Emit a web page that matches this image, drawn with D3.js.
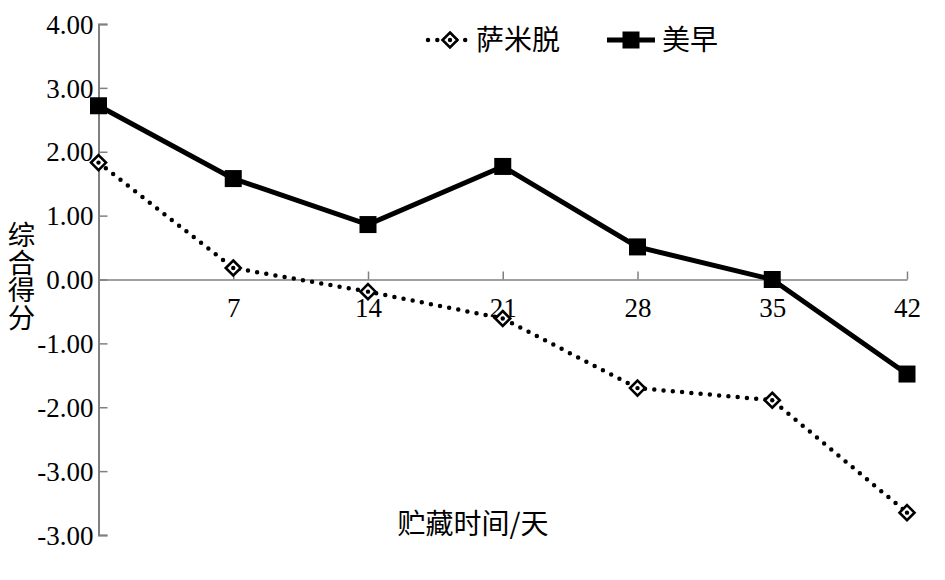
<!DOCTYPE html>
<html><head><meta charset="utf-8">
<script src="https://cdn.jsdelivr.net/npm/d3@7"></script>
<style>body{margin:0;background:#fff}svg{display:block}</style>
</head><body>
<script>
const days = [0, 7, 14, 21, 28, 35, 42];
const xTickValues = [7, 14, 21, 28, 35, 42];
const samitoValues = [1.83, 0.18, -0.19, -0.61, -1.70, -1.89, -3.65];
const meizaoValues = [2.72, 1.58, 0.86, 1.77, 0.51, 0.00, -1.48];
const yTickValues = [4, 3, 2, 1, 0, -1, -2, -3, -4];
const yTickLabels = ["4.00", "3.00", "2.00", "1.00", "0.00", "-1.00", "-2.00", "-3.00", "-3.00"];
const seriesNames = ["萨米脱", "美早"];

const W = 945, H = 580;
const svg = d3.select("body").append("svg").attr("width", W).attr("height", H);
const x = d3.scaleLinear().domain([0, 42]).range([98.5, 907]);
const y = d3.scaleLinear().domain([-4, 4]).range([535, 24]);
const serif = "'Liberation Serif','Times New Roman',serif";
const cjk = "'Noto Sans CJK SC','Noto Sans',sans-serif";
const axisColor = "#808080";

// Y axis
const yAxis = svg.append("g").attr("transform", `translate(${x(0)},0)`)
  .call(d3.axisRight(y).tickValues(yTickValues).tickSize(9).tickFormat((d, i) => yTickLabels[i]));
yAxis.select(".domain").attr("stroke", axisColor).attr("stroke-width", 2);
yAxis.selectAll(".tick line").attr("stroke", axisColor).attr("stroke-width", 1.5);
yAxis.selectAll(".tick text").attr("x", -5).attr("text-anchor", "end")
  .attr("font-family", serif).attr("font-size", 27).attr("fill", "#000").attr("dy", "0.34em");

// X axis at y=0
const xAxis = svg.append("g").attr("transform", `translate(0,${y(0)})`)
  .call(d3.axisBottom(x).tickValues(xTickValues).tickSize(-8).tickSizeOuter(0).tickFormat(d3.format("d")));
xAxis.select(".domain").attr("stroke", axisColor).attr("stroke-width", 1.5);
xAxis.selectAll(".tick line").attr("stroke", axisColor).attr("stroke-width", 1.5);
xAxis.selectAll(".tick text").attr("y", 37).attr("dy", 0)
  .attr("font-family", serif).attr("font-size", 27).attr("fill", "#000");

const line = d3.line().x((d, i) => x(days[i])).y(d => y(d));

// 萨米脱 dotted
svg.append("path").datum(samitoValues).attr("d", line)
  .attr("fill", "none").attr("stroke", "#000").attr("stroke-width", 4.5)
  .attr("stroke-linecap", "round").attr("stroke-dasharray", "0 9.3");
const dsz = 7.5;
svg.selectAll(".dia").data(samitoValues).enter().append("path")
  .attr("transform", (d, i) => `translate(${x(days[i])},${y(d)})`)
  .attr("d", `M0,${-dsz}L${dsz},0L0,${dsz}L${-dsz},0Z`)
  .attr("fill", "#fff").attr("stroke", "#000").attr("stroke-width", 2.6);
svg.selectAll(".diadot").data(samitoValues).enter().append("circle")
  .attr("cx", (d, i) => x(days[i])).attr("cy", d => y(d)).attr("r", 2.2).attr("fill", "#000");

// 美早 solid
svg.append("path").datum(meizaoValues).attr("d", line)
  .attr("fill", "none").attr("stroke", "#000").attr("stroke-width", 5).attr("stroke-linejoin", "miter");
const sq = 17;
svg.selectAll(".sq").data(meizaoValues).enter().append("rect")
  .attr("x", (d, i) => x(days[i]) - sq / 2).attr("y", d => y(d) - sq / 2)
  .attr("width", sq).attr("height", sq).attr("fill", "#000");

// Legend
const lg = svg.append("g");
lg.append("line").attr("x1", 428).attr("x2", 468).attr("y1", 40).attr("y2", 40)
  .attr("stroke", "#000").attr("stroke-width", 4.5).attr("stroke-linecap", "round").attr("stroke-dasharray", "0 9.3");
lg.append("path").attr("transform", "translate(450,40)")
  .attr("d", `M0,${-dsz}L${dsz},0L0,${dsz}L${-dsz},0Z`)
  .attr("fill", "#fff").attr("stroke", "#000").attr("stroke-width", 2.6);
lg.append("circle").attr("cx", 450).attr("cy", 40).attr("r", 2.2).attr("fill", "#000");
lg.append("text").attr("x", 476).attr("y", 40).attr("dy", "0.36em").text(seriesNames[0])
  .attr("font-family", cjk).attr("font-size", 28).attr("fill", "#000");
lg.append("line").attr("x1", 607).attr("x2", 655).attr("y1", 40).attr("y2", 40)
  .attr("stroke", "#000").attr("stroke-width", 5);
lg.append("rect").attr("x", 631 - sq / 2).attr("y", 40 - sq / 2).attr("width", sq).attr("height", sq).attr("fill", "#000");
lg.append("text").attr("x", 662).attr("y", 40).attr("dy", "0.36em").text(seriesNames[1])
  .attr("font-family", cjk).attr("font-size", 28).attr("fill", "#000");

// Axis titles
svg.append("text").attr("x", 473).attr("y", 524).attr("dy", "0.36em").attr("text-anchor", "middle")
  .text("贮藏时间/天").attr("font-family", cjk).attr("font-size", 28).attr("fill", "#000");
svg.append("text").attr("x", 21.5).attr("y", 221)
  .style("writing-mode", "vertical-rl").style("text-orientation", "upright")
  .attr("font-family", cjk).attr("font-size", 27.5).attr("fill", "#000")
  .text("综合得分");
</script>
</body></html>
